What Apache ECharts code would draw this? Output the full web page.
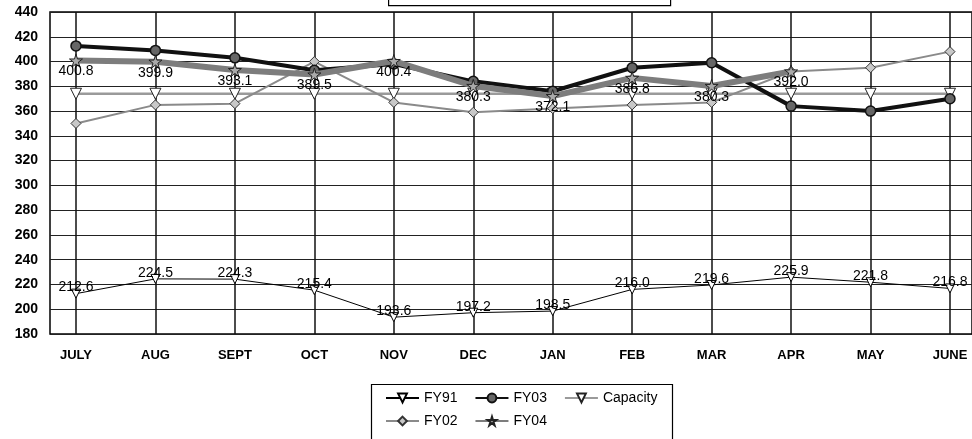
<!DOCTYPE html>
<html>
<head>
<meta charset="utf-8">
<script src="https://cdn.jsdelivr.net/npm/echarts@6/dist/echarts.min.js"></script>
<style>
  html, body { margin: 0; padding: 0; background: #fff; }
  #chart { width: 972px; height: 439px; }
</style>
</head>
<body>
<div id="chart"></div>
<script>
// Monthly figures by fiscal year
const months = ['JULY', 'AUG', 'SEPT', 'OCT', 'NOV', 'DEC', 'JAN', 'FEB', 'MAR', 'APR', 'MAY', 'JUNE'];
const fy91 = [212.6, 224.5, 224.3, 215.4, 193.6, 197.2, 198.5, 216.0, 219.6, 225.9, 221.8, 216.8];
const fy02 = [350, 365, 366, 400, 367, 359, 362, 365, 367, 392, 395, 408];
const fy03 = [412.6, 409, 403, 393, 398, 384, 376, 395, 399, 364, 360, 370];
const fy04 = [400.8, 399.9, 393.1, 389.5, 400.4, 380.3, 372.1, 386.8, 380.3, 392.0, null, null];
const capacity = [374, 374, 374, 374, 374, 374, 374, 374, 374, 374, 374, 374];
const yTicks = { min: 180, max: 440, step: 20 };

const FONT = "'Liberation Sans', Arial, sans-serif";
const STAR = 'path://M50,0 L61,35 L98,35 L68,57 L79,92 L50,70 L21,92 L32,57 L2,35 L39,35 Z';

const idx = months.map((m, i) => i);
const pairs = arr => arr.map((v, i) => [i, v]);

const chart = echarts.init(document.getElementById('chart'), null, { renderer: 'canvas' });

const labelStyle = { color: '#000', fontFamily: FONT, fontSize: 14 };

chart.setOption({
  animation: false,
  backgroundColor: '#fff',
  grid: {
    left: 50, top: 12, right: 0, bottom: 105,
    show: true, borderColor: '#000', borderWidth: 1.5, backgroundColor: 'transparent'
  },
  xAxis: {
    type: 'value',
    min: -0.327,
    max: 11.277,
    axisLine: { show: false },
    axisTick: { show: false, customValues: idx },
    splitLine: { show: true, customValues: idx, lineStyle: { color: '#111', width: 1.5 } },
    axisLabel: {
      customValues: idx,
      formatter: v => months[Math.round(v)],
      color: '#000', fontFamily: FONT, fontSize: 13, fontWeight: 'bold', margin: 15
    }
  },
  yAxis: {
    type: 'value',
    min: yTicks.min,
    max: yTicks.max,
    interval: yTicks.step,
    axisLine: { show: false, onZero: false },
    axisTick: { show: false },
    splitLine: { show: true, lineStyle: { color: '#222', width: 1.2 } },
    axisLabel: { color: '#000', fontFamily: FONT, fontSize: 14, fontWeight: 'bold', margin: 12 }
  },
  legend: [
    {
      data: ['FY91', 'FY03', 'Capacity'],
      left: 385, top: 391,
      itemWidth: 33, itemHeight: 11, itemGap: 17,
      padding: 0,
      textStyle: { color: '#000', fontFamily: FONT, fontSize: 14 }
    },
    {
      data: ['FY02', 'FY04'],
      left: 385, top: 414,
      itemWidth: 33, itemHeight: 11, itemGap: 17,
      padding: 0,
      textStyle: { color: '#000', fontFamily: FONT, fontSize: 14 }
    }
  ],
  graphic: [
    {
      type: 'rect', left: 369, top: 382, silent: true,
      shape: { width: 301, height: 56 },
      style: { fill: 'none', stroke: '#000', lineWidth: 1.2 }
    },
    {
      type: 'rect', left: 388, top: -20, silent: true,
      shape: { width: 282, height: 25 },
      style: { fill: '#fff', stroke: '#000', lineWidth: 1.2 }
    }
  ],
  series: [
    {
      name: 'Capacity', type: 'line', data: pairs(capacity),
      symbol: 'triangle', symbolRotate: 180, symbolSize: 11,
      lineStyle: { color: '#9a9a9a', width: 2.5 },
      itemStyle: { color: '#fff', borderColor: '#222', borderWidth: 1 },
      z: 2
    },
    {
      name: 'FY02', type: 'line', data: pairs(fy02),
      symbol: 'diamond', symbolSize: 10,
      lineStyle: { color: '#8a8a8a', width: 2 },
      itemStyle: { color: '#c8c8c8', borderColor: '#333', borderWidth: 1 },
      z: 3
    },
    {
      name: 'FY91', type: 'line', data: pairs(fy91),
      symbol: 'triangle', symbolRotate: 180, symbolSize: 9,
      lineStyle: { color: '#000', width: 1 },
      itemStyle: { color: '#fff', borderColor: '#000', borderWidth: 1 },
      label: {
        show: true, position: 'top', distance: -6,
        formatter: p => p.value[1].toFixed(1), ...labelStyle
      },
      z: 4
    },
    {
      name: 'FY03', type: 'line', data: pairs(fy03),
      symbol: 'circle', symbolSize: 10,
      lineStyle: { color: '#111', width: 4 },
      itemStyle: { color: '#666', borderColor: '#111', borderWidth: 1.5 },
      z: 5
    },
    {
      name: 'FY04', type: 'line', data: pairs(fy04),
      symbol: STAR, symbolSize: 13,
      lineStyle: { color: '#7d7d7d', width: 6 },
      itemStyle: { color: '#aaa', borderColor: '#222', borderWidth: 1 },
      label: {
        show: true, position: 'bottom', distance: -3,
        formatter: p => p.value[1].toFixed(1), ...labelStyle
      },
      z: 6
    }
  ]
});
</script>
</body>
</html>
